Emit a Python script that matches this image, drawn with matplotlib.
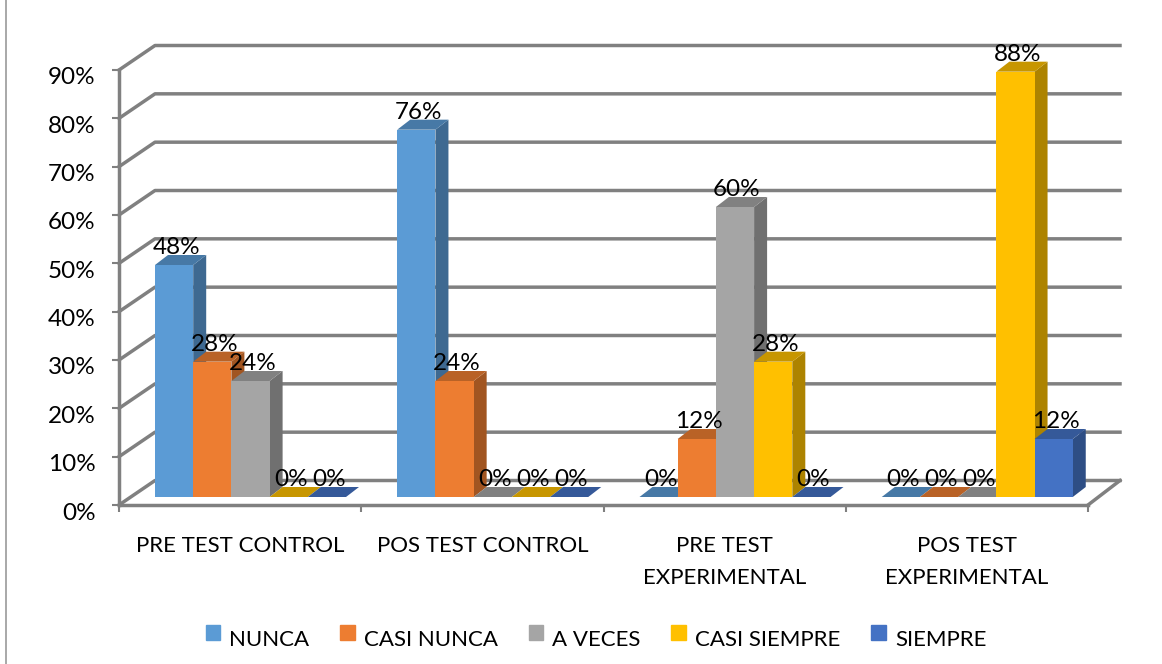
import numpy as np
import matplotlib
matplotlib.use('Agg')
import matplotlib.pyplot as plt
from matplotlib.patches import Polygon, Patch
from matplotlib.lines import Line2D
from matplotlib.colors import to_rgb
from matplotlib.transforms import ScaledTranslation

plt.rcParams['font.family'] = ['Lato', 'DejaVu Sans']

grupos = ['PRE TEST CONTROL', 'POS TEST CONTROL', 'PRE TEST\nEXPERIMENTAL', 'POS TEST\nEXPERIMENTAL']
series = ['NUNCA', 'CASI NUNCA', 'A VECES', 'CASI SIEMPRE', 'SIEMPRE']
nunca = [48, 76, 0, 0]
casi_nunca = [28, 24, 12, 0]
a_veces = [24, 0, 60, 0]
casi_siempre = [0, 0, 28, 88]
siempre = [0, 0, 0, 12]
valores = [nunca, casi_nunca, a_veces, casi_siempre, siempre]
colores = ['#5B9BD5', '#ED7D31', '#A5A5A5', '#FFC000', '#4472C4']
yticks = [0, 10, 20, 30, 40, 50, 60, 70, 80, 90]

W, H = 1162, 664
fig = plt.figure(figsize=(W / 100, H / 100), dpi=100)
ax = fig.add_axes([119 / W, 1 - 505 / H, 969 / W, 435 / H])
ax.set_xlim(0, 4)
ax.set_ylim(0, 90)

# pixeles -> unidades de datos
px = 4 / 969
py = 90 / 435

gris = '#808080'
lw = 2.5

# paredes del fondo
wall_x = 36 * px
wall_y = 24.5 * py
wall_r = 4 + 32 * px
for t in yticks:
    ax.plot([0, wall_x, wall_r], [t, t + wall_y, t + wall_y], color=gris, lw=lw,
            clip_on=False, zorder=1, solid_joinstyle='round')
ax.plot([4, wall_r], [0, wall_y], color=gris, lw=lw, clip_on=False, zorder=1)

# barras
ancho = 38.2 * px
base = 8 * py
dx = 13 * px
dy = 10 * py


def oscuro(c, f):
    return tuple(v * f for v in to_rgb(c))


z = 3
for s, vals in enumerate(valores):
    col = colores[s]
    for g, v in enumerate(vals):
        x0 = g + wall_x + s * ancho
        top = base + v
        ax.bar(x0, v, ancho, bottom=base, align='edge', color=col, zorder=z + s * 2, clip_on=False)
        side = [(x0 + ancho, base), (x0 + ancho + dx, base + dy), (x0 + ancho + dx, top + dy), (x0 + ancho, top)]
        roof = [(x0, top), (x0 + dx, top + dy), (x0 + ancho + dx, top + dy), (x0 + ancho, top)]
        ax.add_patch(Polygon(side, closed=True, fc=oscuro(col, 0.68), ec='none', zorder=z + s * 2 - 1, clip_on=False))
        ax.add_patch(Polygon(roof, closed=True, fc=oscuro(col, 0.78), ec='none', zorder=z + s * 2, clip_on=False))
        ax.text(x0 + ancho / 2 + 2 * px, top + 17 * py, '%d%%' % v, ha='center', va='center',
                fontsize=17.5, color='black', zorder=30, clip_on=False)

# ejes
for lado in ['top', 'right']:
    ax.spines[lado].set_visible(False)
for lado in ['left', 'bottom']:
    ax.spines[lado].set_color(gris)
    ax.spines[lado].set_linewidth(lw)
    ax.spines[lado].set_zorder(2)

ax.set_yticks(yticks)
ax.set_yticklabels(['%d%%' % t for t in yticks], fontsize=17.5)
ax.set_xticks(range(5))
ax.set_xticklabels([])
ax.set_xticks(np.arange(4) + 0.5, minor=True)
ax.set_xticklabels(grupos, minor=True, fontsize=16, linespacing=1.75, va='top')
ax.tick_params(axis='y', length=5, width=1.5, color=gris, pad=12)
ax.tick_params(axis='x', which='major', length=5, width=1.5, color=gris)
ax.tick_params(axis='x', which='minor', length=0, pad=22)

# etiquetas del eje y un poco mas abajo
baja = ScaledTranslation(0, -6 / 100, fig.dpi_scale_trans)
for lab in ax.get_yticklabels():
    lab.set_transform(lab.get_transform() + baja)

# linea vertical a la izquierda
fig.add_artist(Line2D([6 / W, 6 / W], [0, 1], color='#999999', lw=1.2))

handles = [Patch(color=c, label=n) for c, n in zip(colores, series)]
leg = fig.legend(handles=handles, loc='center', bbox_to_anchor=(596 / W, 1 - 639.5 / H), ncol=5, frameon=False,
                 fontsize=16, handlelength=0.65, handleheight=0.65, handletextpad=0.42, columnspacing=1.38)
for h in leg.legend_handles:
    h.set_y(h.get_y() + 3.6)

fig.savefig('out.png', dpi=100)
